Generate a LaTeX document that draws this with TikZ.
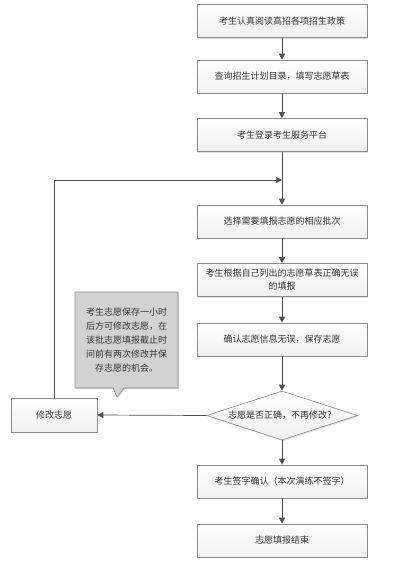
\documentclass[tikz,border=0pt]{standalone}
\usepackage{fontspec}
\newfontfamily\cjk{Noto Sans CJK SC}
\usepackage{tikz}
\usetikzlibrary{shapes.geometric, shapes.callouts, arrows.meta, shadows}
\definecolor{boxline}{HTML}{8A8A8A}
\definecolor{arrowgray}{HTML}{505050}
\definecolor{notegray}{HTML}{D2D2D2}
\definecolor{txtgray}{HTML}{333333}

\begin{document}
\begin{tikzpicture}[x=1pt, y=-1pt,
    proc/.style={rectangle, draw=boxline, top color=white, bottom color=gray!12,
        minimum width=170pt, minimum height=33pt, align=center, text=txtgray,
        font=\cjk\fontsize{9}{13}\selectfont, line width=0.6pt, inner sep=2pt,
        drop shadow={opacity=0.25, shadow xshift=1.2pt, shadow yshift=-1.2pt}},
    deci/.style={diamond, draw=boxline, top color=white, bottom color=gray!12,
        minimum width=151pt, minimum height=49pt, aspect=3.08, inner sep=0pt,
        align=center, text=txtgray, font=\cjk\fontsize{9}{13}\selectfont, line width=0.6pt,
        drop shadow={opacity=0.25, shadow xshift=1.2pt, shadow yshift=-1.2pt}},
    note/.style={rectangle callout, draw=boxline, fill=notegray,
        minimum width=103pt, minimum height=96pt, text width=90pt, align=center,
        text=txtgray, font=\cjk\fontsize{9}{14}\selectfont, line width=0.6pt,
        callout pointer width=11pt,
        drop shadow={opacity=0.25, shadow xshift=1.2pt, shadow yshift=-1.2pt}},
    arr/.style={-{Triangle[length=6pt, width=6pt]}, line width=0.7pt, arrowgray}
]
    \useasboundingbox (0,0) rectangle (413,561);

    % === main column ===
    \node[proc] (read)   at (282, 21)    {考生认真阅读高招各项招生政策};
    \node[proc] (query)  at (282, 76.5)  {查询招生计划目录，填写志愿草表};
    \node[proc] (login)  at (282, 135)   {考生登录考生服务平台};
    \node[proc] (batch)  at (282, 221.5) {选择需要填报志愿的相应批次};
    \node[proc] (fill)   at (282, 280)   {考生根据自己列出的志愿草表正确无误\\的填报};
    \node[proc] (save)   at (282, 339.5) {确认志愿信息无误，保存志愿};
    \node[deci] (check)  at (282, 415.5) {志愿是否正确，不再修改？};
    \node[proc] (sign)   at (282, 481.5) {考生签字确认（本次演练不签字）};
    \node[proc] (finish) at (282, 540.5) {志愿填报结束};

    % === left side: edit loop ===
    \node[proc, minimum width=86pt, minimum height=34pt] (edit) at (54, 415) {修改志愿};
    \node[note, callout absolute pointer={(117,397)}] (hint) at (126.5, 340)
        {考生志愿保存一小时\\后方可修改志愿，在\\该批志愿填报截止时\\间前有两次修改并保\\存志愿的机会。};
    \coordinate (join) at (282, 180);

    % --- arrows ---
    \draw[arr] (read) -- (query);
    \draw[arr] (query) -- (login);
    \draw[arr] (login) -- (batch);
    \draw[arr] (batch) -- (fill);
    \draw[arr] (fill) -- (save);
    \draw[arr] (save) -- (check);
    \draw[arr] (check) -- (sign);
    \draw[arr] (sign) -- (finish);
    \draw[arr] (check.west) -- (edit.east);
    \draw[arr] (edit.north) |- (join);
\end{tikzpicture}
\end{document}
